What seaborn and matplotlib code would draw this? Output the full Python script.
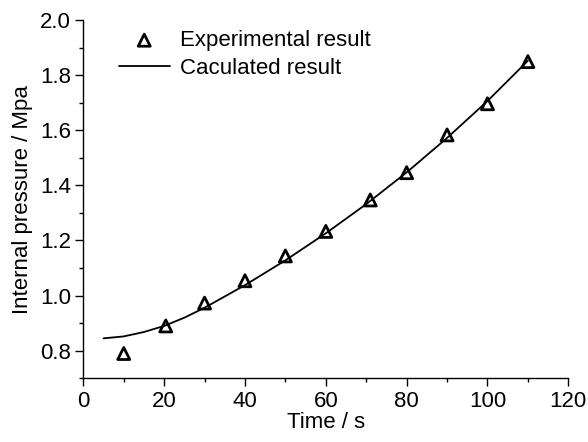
import matplotlib
matplotlib.use("Agg")
import matplotlib.pyplot as plt
import seaborn as sns
import pandas as pd
from matplotlib.ticker import MultipleLocator

# Experimental data
exp_time = [10, 20.4, 30, 40, 50, 60, 71, 80, 90, 100, 110]
exp_pressure = [0.79, 0.89, 0.973, 1.054, 1.144, 1.233, 1.347, 1.446, 1.583, 1.696, 1.849]

# Calculated curve
calc_time = [5, 10, 15, 20, 25, 30, 40, 50, 60, 70, 80, 90, 100, 110]
calc_pressure = [0.845, 0.852, 0.868, 0.890, 0.920, 0.956, 1.038, 1.128, 1.226, 1.332, 1.447, 1.572, 1.706, 1.852]

sns.set_theme(style="ticks")
plt.rcParams['font.family'] = ['Liberation Sans', 'DejaVu Sans']
plt.rcParams['text.color'] = 'black'
FS = 16
plt.rcParams['font.size'] = FS

fig = plt.figure(figsize=(5.88, 4.42), dpi=100)
ax = fig.add_axes([0.1417, 0.1441, 0.9665 - 0.1417, 0.9548 - 0.1441])

df_exp = pd.DataFrame({"t": exp_time, "p": exp_pressure})
df_calc = pd.DataFrame({"t": calc_time, "p": calc_pressure})

sns.lineplot(data=df_calc, x="t", y="p", ax=ax, color="black", linewidth=1.3,
             label="Caculated result")
sns.scatterplot(data=df_exp, x="t", y="p", ax=ax, marker="^", s=75,
                facecolor="none", edgecolor="black", linewidth=2,
                label="Experimental result", zorder=3)

ax.set_xlim(0, 120)
ax.set_ylim(0.7, 2.0)
ax.xaxis.set_major_locator(MultipleLocator(20))
ax.xaxis.set_minor_locator(MultipleLocator(10))
ax.yaxis.set_major_locator(MultipleLocator(0.2))
ax.yaxis.set_minor_locator(MultipleLocator(0.1))
ax.tick_params(which="major", length=6, width=1, direction="out", labelsize=FS,
               color="black", labelcolor="black", pad=3)
ax.tick_params(which="minor", length=3, width=1, direction="out", color="black")
for s in ["left", "bottom"]:
    ax.spines[s].set_color("black")
    ax.spines[s].set_linewidth(1)
sns.despine(ax=ax)

ax.set_xlabel("Time / s", fontsize=FS, color="black", labelpad=0)
ax.set_ylabel("Internal pressure / Mpa", fontsize=FS, color="black", labelpad=5)

handles, labels = ax.get_legend_handles_labels()
order = [labels.index("Experimental result"), labels.index("Caculated result")]
leg = ax.legend([handles[i] for i in order], [labels[i] for i in order],
                loc="upper left", bbox_to_anchor=(0.05, 1.003), frameon=False,
                fontsize=FS, handlelength=2.3, handletextpad=0.45,
                labelspacing=0.32, borderaxespad=0.1)
for t in leg.get_texts():
    t.set_color("black")

fig.savefig("out.png", dpi=100)
